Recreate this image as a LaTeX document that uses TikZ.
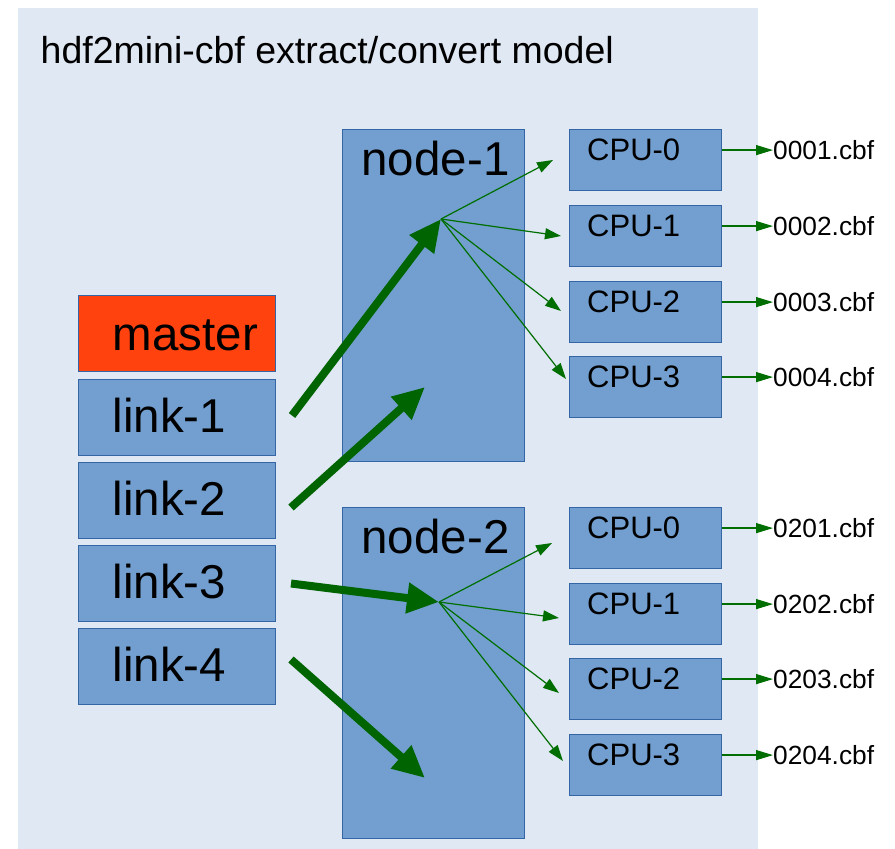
\documentclass[tikz,border=0pt]{standalone}
\usepackage{fontspec}
\setmainfont{Liberation Sans}
\usetikzlibrary{arrows.meta,calc}
\definecolor{panel}{HTML}{E0E8F4}
\definecolor{boxfill}{HTML}{729FCF}
\definecolor{boxline}{HTML}{3465A4}
\definecolor{masterfill}{HTML}{FF420E}
\definecolor{darkarrow}{HTML}{006400}
\definecolor{thinarrowc}{HTML}{006E00}
\begin{document}
\begin{tikzpicture}[x=1pt,y=-1pt,
  box/.style={draw=boxline, fill=boxfill, line width=1pt, inner sep=0pt, anchor=north west},
  linkbox/.style={box, minimum width=197pt, minimum height=76pt},
  hostbox/.style={box, minimum width=182pt, minimum height=332pt},
  cpubox/.style={box, minimum width=152pt, minimum height=61pt},
  bigtext/.style={inner sep=0pt, font=\fontsize{47.5}{52}\selectfont},
  cputext/.style={inner sep=0pt, anchor=base west, font=\fontsize{31}{34}\selectfont},
  outtext/.style={inner sep=0pt, anchor=base west, font=\fontsize{26.3}{29}\selectfont},
  fatarrow/.style={draw=darkarrow, line width=8pt, -{Triangle[length=32pt,width=29pt]}},
  fanarrow/.style={draw=thinarrowc, line width=1.2pt, -{Triangle[length=16pt,width=11pt]}},
  outarrow/.style={draw=thinarrowc, line width=1.3pt, -{Triangle[length=17pt,width=10pt]}}
]
\useasboundingbox (0,0) rectangle (895,849);
% panel
\fill[panel] (18,8) rectangle (758,849);
\node[inner sep=0pt, anchor=base west, font=\fontsize{37.5}{41}\selectfont] (title) at (40.5,63) {hdf2mini-cbf extract/convert model};

% master and links
\node[linkbox, fill=masterfill] (master) at (78,295) {};
\node[bigtext, anchor=base west] (tmaster) at (112.5,350) {master};
\foreach \i/\y/\b in {1/379/432,2/462/515,3/545/598,4/628/681} {
  \node[linkbox] (l\i) at (78,\y) {};
  \node[bigtext, anchor=base west] (tl\i) at (112.5,\b) {link-\i};
}

% hosts
\node[hostbox] (n1) at (342,129) {};
\node[bigtext, anchor=base] (tn1) at (435.5,175) {node-1};
\node[hostbox, minimum height=331pt] (n2) at (342,507) {};
\node[bigtext, anchor=base] (tn2) at (435.5,553) {node-2};

% cpus node-1
\foreach \i/\y/\o in {0/129/0001,1/205/0002,2/281/0003,3/356/0004} {
  \node[cpubox] (a\i) at (569,\y) {};
  \node[cputext] (ta\i) at ($(a\i.north west)+(18,31)$) {CPU-\i};
  \node[outtext] (oa\i) at ($(a\i.north west)+(204,30.5)$) {\o.cbf};
  \draw[outarrow] (a\i.east |- oa\i.west) -- (oa\i.west);
}
% cpus node-2
\foreach \i/\y/\o in {0/507/0201,1/583/0202,2/658/0203,3/734/0204} {
  \node[cpubox] (b\i) at (569,\y) {};
  \node[cputext] (tb\i) at ($(b\i.north west)+(18,31)$) {CPU-\i};
  \node[outtext] (ob\i) at ($(b\i.north west)+(204,30.5)$) {\o.cbf};
  \draw[outarrow] (b\i.east |- ob\i.west) -- (ob\i.west);
}

% fan points and free ends
\coordinate (f1) at (441,219);
\coordinate (f2) at (439,602);
\coordinate (e2) at (425,387);
\coordinate (e4) at (425,778);

% thick arrows from links
\draw[fatarrow] ($(l1.east)+(16,-2)$) -- (f1);
\draw[fatarrow] ($(l2.east)+(15,7)$) -- (e2);
\draw[fatarrow] ($(l3.east)+(15,0)$) -- (f2);
\draw[fatarrow] ($(l4.east)+(15,-7)$) -- (e4);

% fan arrows
\draw[fanarrow] (f1) -- ($(a0.west)+(-16,0)$);
\draw[fanarrow] (f1) -- ($(a1.west)+(-8,0)$);
\draw[fanarrow] (f1) -- ($(a2.west)+(-8,-1)$);
\draw[fanarrow] (f1) -- ($(a3.west)+(-3,-8)$);
\draw[fanarrow] (f2) -- ($(b0.west)+(-17,5)$);
\draw[fanarrow] (f2) -- ($(b1.west)+(-10,4)$);
\draw[fanarrow] (f2) -- ($(b2.west)+(-10,4)$);
\draw[fanarrow] (f2) -- ($(b3.west)+(-6,-4)$);
\end{tikzpicture}
\end{document}
